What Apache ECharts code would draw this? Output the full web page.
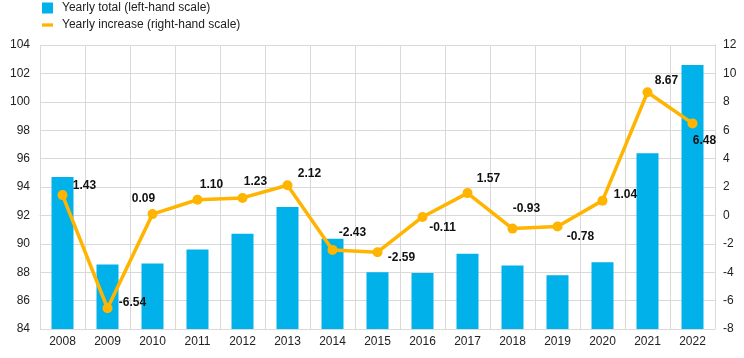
<!DOCTYPE html>
<html><head><meta charset="utf-8">
<script src="https://cdn.jsdelivr.net/npm/echarts@6/dist/echarts.min.js"></script>
<style>html,body{margin:0;padding:0;background:#fff}#c{width:744px;height:358px}</style>
</head><body><div id="c"></div>
<script>
const years = ['2008','2009','2010','2011','2012','2013','2014','2015','2016','2017','2018','2019','2020','2021','2022'];
const yearlyTotal = [94.7, 88.55, 88.62, 89.6, 90.7, 92.6, 90.36, 88.0, 87.94, 89.3, 88.48, 87.78, 88.7, 96.37, 102.6];
const yearlyIncrease = [1.43, -6.54, 0.09, 1.10, 1.23, 2.12, -2.43, -2.59, -0.11, 1.57, -0.93, -0.78, 1.04, 8.67, 6.48];
const leftTicks = {min: 84, max: 104, interval: 2};
const rightTicks = {min: -8, max: 12, interval: 2};
const labelOffsets = [[22,-9],[25,-6],[-9,-15],[14,-15],[13,-16],[22,-12],[20,-17],[24,6],[20,11],[21,-14],[14,-20],[23,10],[23,-6],[19,-12],[12,17]];

const chart = echarts.init(document.getElementById('c'));
const font = 'Liberation Sans, Arial, sans-serif';
chart.setOption({
  animation: false,
  textStyle: {fontFamily: font},
  legend: {
    orient: 'vertical', left: 42, top: 2, itemGap: 5, padding: 0,
    itemWidth: 11, itemHeight: 11,
    textStyle: {fontSize: 12, color: '#222', fontFamily: font, padding: [0, 0, 0, 4]},
    data: [
      {name: 'Yearly total (left-hand scale)', icon: 'rect'},
      {name: 'Yearly increase (right-hand scale)', icon: 'path://M0,4 L10,4 L10,7 L0,7 Z', itemStyle: {color: '#FFB400'}}
    ]
  },
  grid: {left: 40, right: 29, top: 45, bottom: 29, containLabel: false},
  xAxis: {
    type: 'category', data: years, boundaryGap: true,
    axisLine: {show: true, lineStyle: {color: '#d9d9d9'}},
    axisTick: {show: false},
    axisLabel: {color: '#222', fontSize: 12, margin: 7, fontFamily: font},
    splitLine: {show: true, interval: 0, lineStyle: {color: '#d9d9d9', width: 1}}
  },
  yAxis: [
    {type: 'value', min: leftTicks.min, max: leftTicks.max, interval: leftTicks.interval,
     axisLine: {show: false}, axisTick: {show: false},
     axisLabel: {color: '#222', fontSize: 12, margin: 10, fontFamily: font},
     splitLine: {show: true, lineStyle: {color: '#d9d9d9'}}},
    {type: 'value', min: rightTicks.min, max: rightTicks.max, interval: rightTicks.interval, position: 'right',
     axisLine: {show: true, lineStyle: {color: '#d9d9d9'}}, axisTick: {show: false},
     axisLabel: {color: '#222', fontSize: 12, margin: 8, fontFamily: font},
     splitLine: {show: false}}
  ],
  series: [
    {name: 'Yearly total (left-hand scale)', type: 'bar', yAxisIndex: 0, data: yearlyTotal,
     barWidth: 22, itemStyle: {color: '#00B1EA'}},
    {name: 'Yearly increase (right-hand scale)', type: 'line', yAxisIndex: 1,
     data: yearlyIncrease.map((v, i) => ({value: v, label: {offset: labelOffsets[i]}})),
     symbol: 'circle', symbolSize: 10,
     lineStyle: {color: '#FFB400', width: 3.5},
     itemStyle: {color: '#FFB400'},
     label: {show: true, position: 'inside', fontWeight: 'bold', fontSize: 12, color: '#111', fontFamily: font,
       formatter: p => p.value.toFixed(2)}}
  ]
});
</script></body></html>
